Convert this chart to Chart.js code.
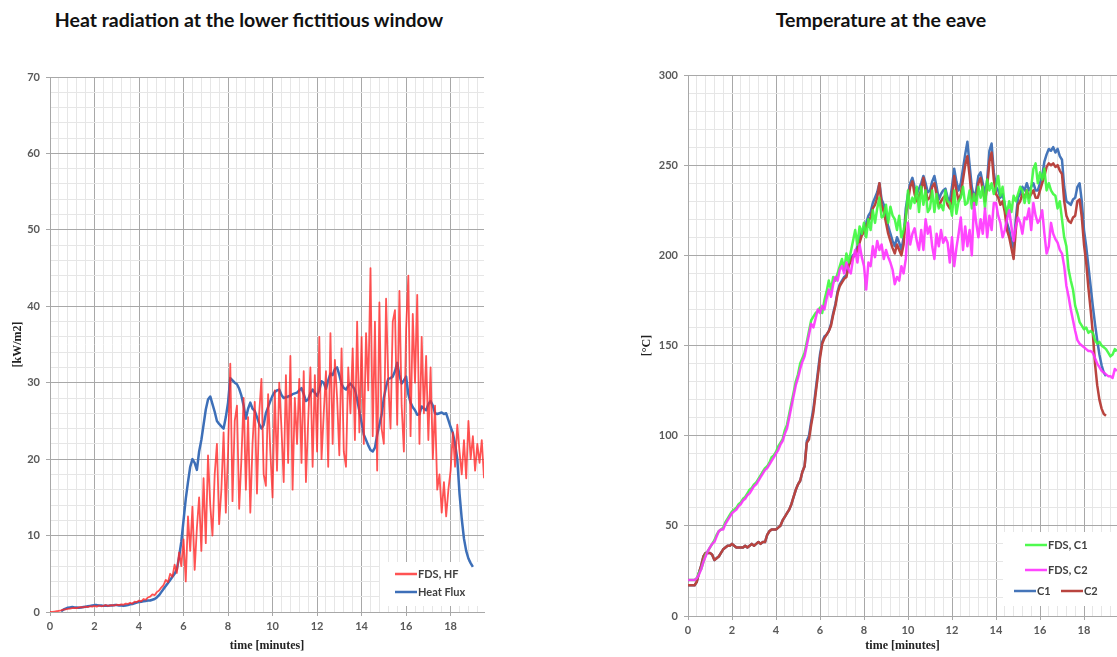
<!DOCTYPE html>
<html>
<head>
<meta charset="utf-8">
<script src="https://cdn.jsdelivr.net/npm/chart.js@4.4.0/dist/chart.umd.min.js"></script>
<style>
  body { margin: 0; background: #fff; width: 1117px; height: 657px; overflow: hidden; position: relative; }
  .title { position: absolute; top: 8px; font: bold 19.5px Lato, sans-serif; color: #111; text-align: center; }
  canvas { position: absolute; top: 0; }
</style>
</head>
<body>
<div class="title" style="left:0;width:498px">Heat radiation at the lower fictitious window</div>
<div class="title" style="left:640px;width:482px">Temperature at the eave</div>
<canvas id="hfChart" width="500" height="657" style="left:0"></canvas>
<canvas id="tempChart" width="481" height="657" style="left:636px"></canvas>
<script>
// all series are sampled every 0.1 minute, starting at t = 0
const TIME_STEP = 0.1;

// Heat radiation [kW/m2]
const hfFds = [
  0, 0, 0.05, 0.1, 0.15, 0.2, 0.3, 0.35, 0.4, 0.45,
  0.5, 0.55, 0.5, 0.6, 0.65, 0.6, 0.7, 0.65, 0.75, 0.7,
  0.8, 0.7, 0.85, 0.75, 0.8, 0.9, 0.8, 0.85, 0.9, 0.85,
  0.95, 0.9, 1.0, 0.95, 1.1, 1.05, 1.2, 1.1, 1.35, 1.3,
  1.5, 1.4, 1.7, 1.6, 1.9, 2.0, 2.3, 2.2, 2.6, 2.8,
  3.2, 3.5, 4.2, 3.9, 5.0, 4.6, 6.2, 5.1, 7.8, 6.0,
  9.5, 4.0, 12.5, 8.0, 13.8, 5.5, 11.0, 15.0, 8.0, 17.5,
  9.0, 20.5, 14.0, 10.0, 18.0, 22.0, 11.5, 16.0, 23.5, 13.0,
  21.0, 32.5, 14.5, 25.0, 27.0, 13.5, 20.0, 28.0, 16.0, 25.5,
  13.0, 22.0, 27.5, 15.5, 26.0, 30.5, 18.0, 16.5, 28.5, 21.0,
  15.0, 29.0, 18.5, 30.0, 24.0, 17.0, 31.0, 19.5, 33.5, 16.0,
  28.0, 22.0, 30.5, 19.5, 31.5, 17.0, 25.0, 32.0, 19.0, 31.0,
  21.0, 36.0, 20.0, 26.0, 31.5, 19.0, 36.5, 22.0, 33.0, 28.0,
  20.5, 34.5, 21.0, 19.0, 32.0, 26.0, 34.5, 22.5, 38.0, 23.5,
  36.0, 22.0, 36.5, 29.0, 45.0, 23.0, 38.0, 18.5, 40.5, 24.0,
  22.0, 41.0, 30.0, 24.0, 38.0, 39.5, 24.5, 42.0, 27.0, 21.0,
  37.0, 44.0, 23.0, 39.0, 30.0, 41.5, 22.0, 36.0, 26.0, 33.5,
  22.5, 32.0, 20.0, 27.0, 16.0, 18.0, 13.0, 17.0, 12.5, 16.0,
  18.5, 23.5, 19.0, 24.5, 21.0, 18.0, 22.5, 17.5, 25.0, 20.0,
  23.0, 18.5, 22.0, 19.5, 22.5, 17.5
];
const hfMeasured = [
  null, null, null, null, null, 0.1, 0.3, 0.45, 0.55, 0.6,
  0.65, 0.6, 0.6, 0.55, 0.6, 0.65, 0.7, 0.75, 0.8, 0.85,
  0.9, 0.9, 0.85, 0.85, 0.8, 0.85, 0.8, 0.85, 0.85, 0.9,
  0.9, 0.85, 0.85, 0.8, 0.85, 0.9, 1.0, 1.05, 1.15, 1.25,
  1.3, 1.35, 1.4, 1.45, 1.5, 1.5, 1.6, 1.7, 1.9, 2.2,
  2.6, 3.0, 3.4, 3.8, 4.2, 4.6, 5.0, 5.6, 7.2, 9.2,
  12.0, 14.8, 17.0, 19.0, 20.0, 19.5, 18.6, 21.0, 22.5, 24.5,
  26.5, 27.8, 28.2, 27.2, 26.2, 25.0, 24.6, 24.3, 24.0, 25.5,
  27.4, 30.6, 30.3, 30.0, 29.8, 29.2, 28.3, 27.0, 25.3, 26.6,
  27.4, 26.6, 26.3, 25.5, 24.6, 24.0, 24.5, 26.0, 26.8, 27.6,
  28.3, 28.8, 29.0, 29.1, 28.4, 28.0, 28.1, 28.2, 28.3, 28.5,
  28.6, 28.7, 29.0, 29.3, 28.5, 27.6, 27.8, 28.6, 29.1, 28.7,
  28.3, 29.0, 30.2, 30.0, 29.2, 30.3, 31.2, 31.0, 31.8, 32.0,
  31.0, 29.8, 29.3, 29.1, 29.6, 29.9, 29.5, 29.1, 27.8, 26.3,
  24.8, 23.2, 22.5, 21.8, 21.2, 21.0, 21.5, 23.2, 24.5, 25.8,
  28.0, 29.5, 30.5, 30.6, 30.8, 31.5, 32.6, 31.0, 29.9, 30.3,
  30.8, 28.5, 27.4, 26.8, 26.4, 25.8, 25.9, 26.9, 26.6, 26.4,
  27.2, 27.6, 27.0, 26.0, 25.9, 26.0, 26.1, 25.9, 26.0, 25.1,
  24.2, 23.4, 22.0, 20.0, 15.5, 12.2, 9.6, 8.0, 7.0, 6.4,
  5.9, null, null, null, null, null
];

// Temperature at the eave [°C]
const tempFdsC1 = [
  20, 20, 20, 20, 21, 24, 26, 30, 34, 36,
  38, 40, 42, 45, 47, 48, 49, 52, 54, 56,
  58, 59, 60, 62, 63, 65, 66, 68, 70, 71,
  73, 74, 76, 78, 80, 82, 83, 85, 88, 89,
  91, 94, 96, 98, 103, 106, 112, 118, 124, 130,
  134, 140, 143, 146, 152, 158, 164, 166, 168, 169,
  171, 168, 175, 180, 186, 181, 188, 186, 190, 194,
  198, 192, 201, 196, 202, 208, 214, 206, 216, 212,
  218, 210, 220, 214, 225, 218, 226, 232, 221, 222,
  228, 218, 227, 222, 220, 214, 222, 210, 214, 220,
  236, 226, 232, 229, 238, 224, 238, 228, 236, 224,
  226, 236, 224, 234, 226, 228, 225, 236, 230, 229,
  222, 236, 223, 230, 232, 238, 228, 229, 236, 226,
  234, 228, 238, 232, 238, 226, 242, 236, 240, 234,
  238, 244, 233, 238, 228, 223, 230, 224, 233, 230,
  234, 238, 236, 229, 236, 229, 238, 248, 251, 240,
  246, 242, 248, 236, 240, 236, 234, 233, 226, 230,
  220, 210, 205, 192, 186, 181, 172, 168, 163, 161,
  159, 160, 157, 158, 157, 153, 151, 152, 150, 149,
  148, 146, 144, 145, 148, 147
];
const tempFdsC2 = [
  20, 20, 20, 20, 21, 23, 26, 30, 33, 36,
  38, 40, 41, 44, 47, 48, 48, 51, 53, 55,
  57, 58, 59, 61, 62, 64, 65, 67, 68, 70,
  72, 73, 75, 77, 79, 81, 82, 84, 86, 88,
  90, 92, 95, 97, 101, 104, 110, 116, 122, 128,
  132, 137, 141, 144, 150, 156, 162, 160, 165, 170,
  168, 172, 170, 176, 181, 177, 184, 188, 186, 192,
  194, 190, 196, 192, 190, 198, 203, 196, 206, 199,
  194, 181, 196, 194, 205, 199, 208, 203, 206, 198,
  203, 199, 196, 192, 184, 188, 186, 194, 190, 198,
  218, 206, 212, 215, 208, 203, 214, 203, 220, 212,
  216, 205, 198, 212, 205, 214, 207, 210, 207, 196,
  210, 194, 204, 212, 221, 203, 216, 205, 214, 200,
  229, 218, 210, 220, 212, 226, 210, 222, 214, 229,
  229, 222, 218, 210, 214, 220, 225, 216, 208, 216,
  221, 218, 212, 221, 220, 226, 214, 229, 222, 218,
  220, 225, 212, 201, 205, 218, 212, 209, 207, 203,
  201, 194, 183, 177, 170, 164, 158, 153, 151, 150,
  149, 148, 147, 147, 146, 143, 140, 138, 136, 135,
  134, 133, 133, 132, 137, 136
];
const tempC1 = [
  17, 17, 17, 17, 19, 24, 28, 33, 35, 35,
  35, 34, 31, 32, 33, 35, 37, 38, 39, 39,
  40, 39, 38, 38, 38, 38, 39, 38, 39, 40,
  39, 40, 41, 40, 41, 41, 45, 47, 48, 48,
  48, 49, 50, 53, 55, 57, 59, 62, 66, 70,
  73, 75, 80, 83, 97, 100, 108, 115, 125, 135,
  145, 152, 155, 156, 158, 162, 168, 173, 180, 184,
  186, 188, 189, 195, 198, 200, 201, 205, 209, 213,
  215, 218, 222, 224, 229, 232, 235, 240, 231, 228,
  222, 216, 212, 208, 205, 210, 207, 203, 210, 226,
  234, 240, 243, 238, 234, 237, 240, 244, 240, 235,
  236, 241, 244, 238, 231, 234, 236, 237, 232, 230,
  238, 248, 241, 236, 240, 248, 256, 263, 250, 238,
  232, 236, 244, 246, 240, 234, 242, 258, 262, 246,
  238, 236, 232, 234, 228, 218, 214, 208, 204, 220,
  232, 234, 238, 236, 240, 236, 238, 240, 236, 236,
  240, 244, 252, 256, 259, 258, 260, 257, 259, 255,
  253, 238, 230, 229, 228, 231, 232, 238, 240, 230,
  214, 205, 194, 183, 172, 162, 153, 145, 139, 135,
  133, null, null, null, null, null
];
const tempC2 = [
  17, 17, 17, 17, 19, 24, 28, 33, 35, 35,
  35, 34, 31, 32, 33, 35, 37, 38, 39, 39,
  40, 39, 38, 38, 38, 38, 39, 38, 39, 40,
  39, 40, 41, 40, 41, 41, 45, 47, 48, 48,
  48, 49, 50, 53, 55, 57, 59, 62, 66, 70,
  73, 75, 80, 83, 96, 98, 106, 113, 123, 133,
  143, 151, 154, 156, 158, 161, 167, 172, 179, 183,
  185, 187, 188, 194, 197, 199, 200, 203, 207, 211,
  213, 216, 219, 221, 226, 228, 232, 240, 228, 224,
  218, 212, 208, 204, 201, 206, 203, 200, 206, 222,
  230, 238, 241, 234, 230, 233, 236, 243, 236, 231,
  232, 238, 240, 234, 227, 230, 232, 233, 228, 226,
  232, 244, 236, 230, 234, 242, 250, 255, 244, 232,
  228, 232, 240, 243, 236, 230, 238, 252, 257, 242,
  234, 232, 228, 230, 224, 214, 210, 204, 198, 214,
  228, 230, 234, 232, 236, 232, 234, 236, 232, 232,
  236, 240, 244, 249, 251, 250, 251, 249, 250, 247,
  245, 230, 222, 219, 218, 221, 222, 230, 231, 221,
  206, 196, 182, 170, 157, 140, 128, 120, 115, 112,
  111, null, null, null, null, null
];

const MAJOR_GRID = '#a8a8a8';
const MINOR_GRID = '#e6e6e6';
const TICK_FONT = { family: 'Lato', size: 11, weight: 'bold' };
const AXIS_TITLE_FONT = { family: 'Liberation Serif', size: 12, weight: 'bold' };

Chart.defaults.font.family = 'Lato';
Chart.defaults.animation = false;

function toPoints(values) {
  return values.map((v, i) => ({ x: Math.round(i * TIME_STEP * 10) / 10, y: v }));
}

function isMajor(value, every) {
  const r = value / every;
  return Math.abs(r - Math.round(r)) < 1e-6;
}

function xAxis(height) {
  return {
    type: 'linear', min: 0, max: 19.5,
    afterFit: s => { s.height = height; },
    ticks: {
      stepSize: 0.4, includeBounds: false, autoSkip: false, maxRotation: 0,
      color: '#595959', font: TICK_FONT, padding: 4,
      callback: v => isMajor(v, 2) ? String(v) : ''
    },
    grid: {
      color: c => isMajor(c.tick.value, 2) ? MAJOR_GRID : MINOR_GRID,
      tickColor: c => isMajor(c.tick.value, 2) ? MAJOR_GRID : 'rgba(0,0,0,0)',
      tickLength: 4
    },
    border: { color: MAJOR_GRID },
    title: { display: true, text: 'time [minutes]', color: '#222', font: AXIS_TITLE_FONT, padding: { top: 0, bottom: 4 } }
  };
}

function yAxis(max, step, majorEvery, width, title, titlePad) {
  return {
    type: 'linear', min: 0, max: max,
    afterFit: s => { s.width = width; },
    ticks: {
      stepSize: step, autoSkip: false, color: '#595959', font: TICK_FONT, padding: 6,
      callback: v => isMajor(v, majorEvery) ? String(v) : ''
    },
    grid: {
      color: c => isMajor(c.tick.value, majorEvery) ? MAJOR_GRID : MINOR_GRID,
      tickColor: c => isMajor(c.tick.value, majorEvery) ? MAJOR_GRID : 'rgba(0,0,0,0)',
      tickLength: 4
    },
    border: { color: MAJOR_GRID },
    title: { display: true, text: title, color: '#222', font: AXIS_TITLE_FONT, padding: { top: titlePad, bottom: 0 } }
  };
}

function series(label, values, color, width) {
  return {
    label: label, data: toPoints(values), borderColor: color, borderWidth: width,
    pointRadius: 0, tension: 0, spanGaps: false, borderJoinStyle: 'round', fill: false
  };
}

// legend drawn inside the plot area, on a white box
const insideLegend = {
  id: 'insideLegend',
  beforeDatasetsDraw(chart, args, opts) {
    const c = chart.ctx;
    c.save();
    c.fillStyle = '#fff';
    c.fillRect(opts.box[0], opts.box[1], opts.box[2], opts.box[3]);
    c.restore();
  },
  afterDatasetsDraw(chart, args, opts) {
    const c = chart.ctx;
    c.save();
    c.font = 'bold 11px Lato';
    c.fillStyle = '#404040';
    c.textBaseline = 'middle';
    opts.items.forEach(it => {
      const ds = chart.data.datasets[it.dataset];
      c.strokeStyle = ds.borderColor;
      c.lineWidth = 2.5;
      c.beginPath();
      c.moveTo(it.x, it.y);
      c.lineTo(it.x + 22, it.y);
      c.stroke();
      c.fillText(ds.label, it.x + 23, it.y + 0.5);
    });
    c.restore();
  }
};

new Chart(document.getElementById('hfChart'), {
  type: 'line',
  data: {
    datasets: [
      series('FDS, HF', hfFds, 'rgba(255,40,40,0.8)', 1.8),
      series('Heat Flux', hfMeasured, '#3d6fb8', 2.5)
    ]
  },
  options: {
    responsive: false,
    layout: { padding: { top: 77, right: 16, bottom: 0, left: 0 } },
    plugins: {
      legend: { display: false },
      tooltip: { enabled: false },
      insideLegend: {
        box: [380, 562, 104, 44],
        items: [
          { dataset: 0, x: 395, y: 574 },
          { dataset: 1, x: 395, y: 592 }
        ]
      }
    },
    scales: {
      x: xAxis(45),
      y: yAxis(70, 2, 10, 50, '[kW/m2]', 11)
    }
  },
  plugins: [insideLegend]
});

new Chart(document.getElementById('tempChart'), {
  type: 'line',
  data: {
    datasets: [
      series('FDS, C2', tempFdsC2, 'rgba(255,50,255,0.9)', 2.5),
      series('FDS, C1', tempFdsC1, 'rgba(60,250,60,0.9)', 2.5),
      series('C2', tempC2, '#b9443f', 2.5),
      series('C1', tempC1, '#4575b9', 2.5)
    ]
  },
  options: {
    responsive: false,
    layout: { padding: { top: 75, right: 0, bottom: 0, left: 0 } },
    plugins: {
      legend: { display: false },
      tooltip: { enabled: false },
      insideLegend: {
        // positions are relative to this canvas (starts at x = 636)
        box: [367, 532, 114, 74],
        items: [
          { dataset: 1, x: 389, y: 545 },
          { dataset: 0, x: 389, y: 570 },
          { dataset: 3, x: 378, y: 591 },
          { dataset: 2, x: 425, y: 591 }
        ]
      }
    },
    scales: {
      x: xAxis(41),
      y: yAxis(300, 10, 50, 52, '[°C]', 4)
    }
  },
  plugins: [insideLegend]
});
</script>
</body>
</html>
